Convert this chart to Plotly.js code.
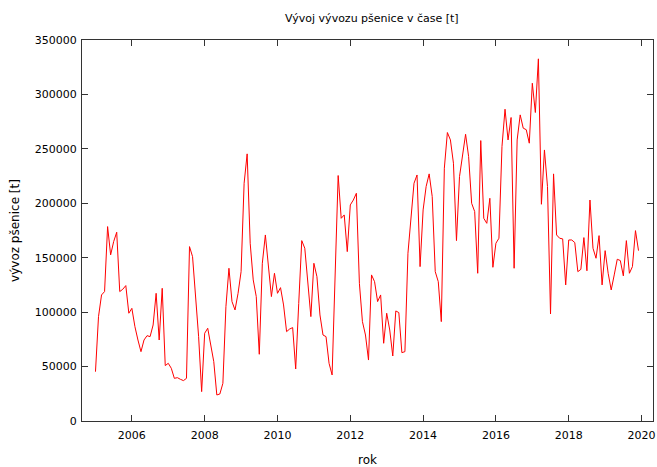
<!DOCTYPE html>
<html>
<head>
<meta charset="utf-8">
<script src="https://cdn.plot.ly/plotly-3.0.1.min.js"></script>
<style>
  html, body { margin: 0; padding: 0; background: #fff; }
  #chart { width: 657px; height: 467px; }
</style>
</head>
<body>
<div id="chart"></div>
<script>
// Monthly wheat export [t], Jan 2005 .. Dec 2019
var startYear = 2005;
var exports2005 = [45300, 95900, 115800, 118900, 178600, 152600, 164800, 173400, 118900, 121000, 124400, 99000];
var exports2006 = [103500, 86700, 74400, 63700, 74400, 78400, 77500, 88200, 117300, 74400, 121900, 50900];
var exports2007 = [53000, 48400, 39200, 39800, 38300, 37100, 39200, 160200, 151000, 117300, 77500, 27000];
var exports2008 = [80600, 85200, 68300, 54500, 23900, 24800, 34600, 105000, 140300, 109700, 102000, 117300];
var exports2009 = [137200, 218400, 245400, 163300, 129600, 114300, 61300, 144900, 170900, 144900, 114300, 135700];
var exports2010 = [117300, 122500, 106600, 82100, 84500, 85800, 47800, 108000, 165700, 158700, 126500, 95900];
var exports2011 = [144900, 132600, 97400, 79000, 77500, 53000, 42300, 140000, 225500, 186200, 189300, 155600];
var exports2012 = [198500, 203000, 209200, 126500, 91300, 79000, 56000, 134200, 128000, 109700, 115800, 71400];
var exports2013 = [99000, 83600, 59700, 101100, 99600, 62800, 63700, 154100, 187800, 218400, 226000, 141800];
var exports2014 = [193900, 215400, 227000, 206200, 137200, 128000, 91300, 232200, 265000, 258200, 236800, 165700];
var exports2015 = [224500, 242900, 263400, 242900, 200000, 192400, 135700, 257600, 186200, 181600, 204600, 141200];
var exports2016 = [163300, 167900, 252100, 286400, 258200, 278800, 140300, 258200, 281200, 269000, 267600, 255200];
var exports2017 = [310300, 283400, 332700, 199100, 249000, 215400, 98300, 227000, 170900, 167900, 167300, 125000];
var exports2018 = [166300, 166300, 163900, 137200, 139300, 168500, 138000, 203000, 158700, 149500, 170300, 125000];
var exports2019 = [156500, 135700, 120400, 134200, 148600, 147400, 133300, 165700, 135700, 141800, 174900, 156500];

var xTickVals = [2006, 2008, 2010, 2012, 2014, 2016, 2018, 2020];
var yTickVals = [0, 50000, 100000, 150000, 200000, 250000, 300000, 350000];

var yearly = [exports2005, exports2006, exports2007, exports2008, exports2009, exports2010, exports2011,
              exports2012, exports2013, exports2014, exports2015, exports2016, exports2017, exports2018, exports2019];
var xs = [], ys = [];
yearly.forEach(function (arr, yi) {
  arr.forEach(function (v, m) {
    xs.push(startYear + yi + m / 12);
    ys.push(v);
  });
});

var font = { family: 'DejaVu Sans, Verdana, sans-serif', size: 11, color: '#000' };

var trace = {
  x: xs, y: ys, type: 'scatter', mode: 'lines',
  line: { color: '#ff0000', width: 1 },
  hoverinfo: 'x+y'
};

var axisCommon = {
  showgrid: false, zeroline: false,
  showline: true, linecolor: '#333', linewidth: 1,
  mirror: 'allticks', ticks: 'inside', ticklen: 6, tickwidth: 1, tickcolor: '#333',
  tickfont: font
};

var layout = {
  width: 657, height: 467,
  margin: { l: 82, r: 4, t: 40, b: 46 },
  paper_bgcolor: '#fff', plot_bgcolor: '#fff',
  showlegend: false,
  font: font,
  title: { text: 'Vývoj vývozu pšenice v čase [t]', font: font, x: 0.566, xanchor: 'center', y: 0.962, yanchor: 'middle' },
  xaxis: Object.assign({}, axisCommon, {
    range: [2004.63, 2020.315],
    tickmode: 'array', tickvals: xTickVals, ticktext: xTickVals.map(String),
    ticklabelstandoff: 4,
    title: { text: 'rok', font: { family: font.family, size: 12, color: '#000' }, standoff: 14 }
  }),
  yaxis: Object.assign({}, axisCommon, {
    range: [0, 350000],
    tickmode: 'array', tickvals: yTickVals, ticktext: yTickVals.map(String),
    ticklabelstandoff: 2,
    title: { text: 'vývoz pšenice [t]', font: { family: font.family, size: 12, color: '#000' }, standoff: 12 }
  })
};

Plotly.newPlot('chart', [trace], layout, { staticPlot: true, displayModeBar: false });
</script>
</body>
</html>
